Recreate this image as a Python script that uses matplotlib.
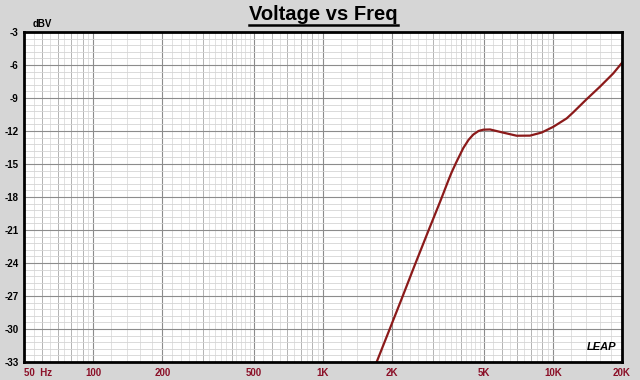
import numpy as np
import matplotlib
matplotlib.use('Agg')
import matplotlib.pyplot as plt
from matplotlib.lines import Line2D

# values
freq = [1712, 1943, 2200, 2496, 2871, 3251, 3510, 3630, 3800, 4078, 4300,
        4509, 4750, 4983, 5330, 6088, 6963, 7956, 8943, 10046, 11495, 12275,
        13130, 14045, 16040, 18330, 20000]
dbv = [-33.0, -30.1, -27.25, -24.3, -21.1, -18.3, -16.5, -15.75, -14.85,
       -13.55, -12.8, -12.32, -12.0, -11.88, -11.86, -12.15, -12.43, -12.42,
       -12.14, -11.62, -10.85, -10.3, -9.7, -9.1, -7.97, -6.76, -5.8]

x_ticks = [50, 100, 200, 500, 1000, 2000, 5000, 10000, 20000]
x_labels = ['50  Hz', '100', '200', '500', '1K', '2K', '5K', '10K', '20K']
y_ticks = [-3, -6, -9, -12, -15, -18, -21, -24, -27, -30, -33]

plt.rcParams['font.family'] = ['Liberation Sans', 'DejaVu Sans']

fig = plt.figure(figsize=(6.4, 3.8), dpi=100, facecolor='#d6d6d6')
ax = fig.add_axes([24 / 640, 18 / 380, 598 / 640, 330 / 380])
ax.set_facecolor('white')
ax.set_xscale('log')
ax.set_xlim(50, 20000)
ax.set_ylim(-33, -3)

# fine log grid like the LEAP plots
fine = []
for lo, hi, step in [(50, 100, 5), (100, 500, 20), (500, 1000, 50),
                     (1000, 5000, 200), (5000, 10000, 500), (10000, 20000, 2000)]:
    fine += list(np.arange(lo, hi, step))
medium = [m * d for d in (10, 100, 1000) for m in range(1, 10) if 50 <= m * d <= 20000]
ax.vlines(fine, -33, -3, color='#dcdcdc', lw=0.6, zorder=1)
ax.vlines(medium, -33, -3, color='#b4b4b4', lw=0.7, zorder=1)
ax.vlines(x_ticks, -33, -3, color='#8c8c8c', lw=0.8, zorder=1)
ax.hlines(np.arange(-33, -3, 0.6), 50, 20000, color='#d4d4d4', lw=0.6, zorder=1)
ax.hlines(y_ticks, 50, 20000, color='#8c8c8c', lw=0.8, zorder=1)

ax.plot(freq, dbv, color='#8b1a1a', lw=1.6, zorder=3)

ax.set_xticks(x_ticks)
ax.set_xticklabels(x_labels)
ax.xaxis.set_minor_locator(plt.NullLocator())
ax.set_yticks(y_ticks)
ax.set_yticklabels([str(v) for v in y_ticks])
ax.tick_params(length=0, labelsize=7)
ax.tick_params(axis='x', pad=4, labelcolor='#8b1028')
ax.tick_params(axis='y', pad=4, labelcolor='black')
for lab in ax.get_xticklabels() + ax.get_yticklabels():
    lab.set_fontweight('bold')
ax.get_xticklabels()[0].set_horizontalalignment('left')

for sp in ax.spines.values():
    sp.set_linewidth(2)
    sp.set_color('black')
    sp.set_zorder(5)

fig.text(33 / 640, 1 - 24 / 380, 'dBV', fontsize=7, fontweight='bold', va='center')
ax.text(0.99, 0.03, 'LEAP', transform=ax.transAxes, fontsize=8, fontweight='bold',
        fontstyle='italic', ha='right', va='bottom', zorder=6)

title = fig.text(0.505, 1 - 14 / 380, 'Voltage vs Freq', fontsize=14.5, fontweight='bold',
                 ha='center', va='center')
fig.canvas.draw()
bb = title.get_window_extent().transformed(fig.transFigure.inverted())
fig.add_artist(Line2D([bb.x0, bb.x1], [1 - 25 / 380] * 2, color='black', lw=1.8,
                      transform=fig.transFigure))

fig.savefig('out.png', dpi=100, facecolor=fig.get_facecolor())
